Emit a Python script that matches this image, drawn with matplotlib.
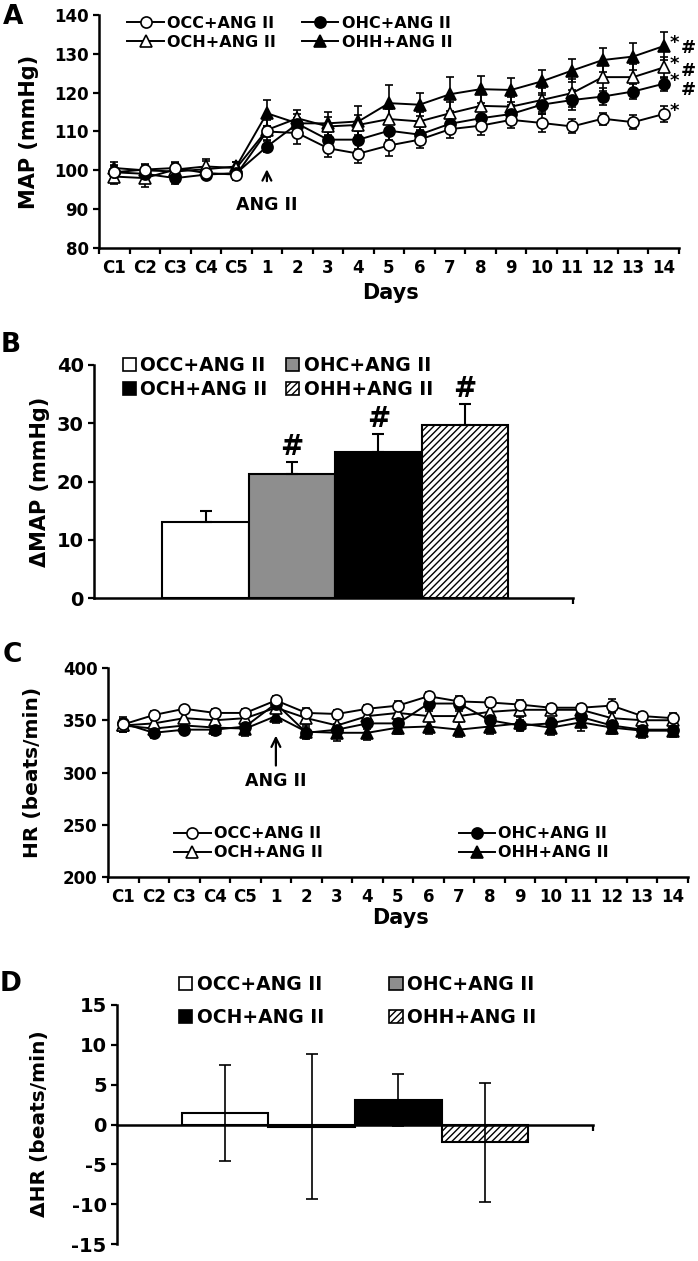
import matplotlib
matplotlib.use('Agg')
import matplotlib.pyplot as plt
from matplotlib.patches import Patch
from matplotlib.lines import Line2D

plt.rcParams['font.family'] = ['DejaVu Sans']
plt.rcParams['font.weight'] = 'bold'
plt.rcParams['hatch.linewidth'] = 1.0
plt.rcParams['axes.unicode_minus'] = False

# ---- data ----
days = ['C1', 'C2', 'C3', 'C4', 'C5', '1', '2', '3', '4', '5', '6', '7',
        '8', '9', '10', '11', '12', '13', '14']
groups = ['OCC+ANG II', 'OHC+ANG II', 'OCH+ANG II', 'OHH+ANG II']

# panel A: MAP (mmHg)
map_occ = [99.5, 100.2, 100.6, 99.3, 98.9, 110.0, 109.6, 105.7, 104.3, 106.4,
           107.9, 110.6, 111.5, 113.0, 112.2, 111.3, 113.3, 112.4, 114.5]
map_ohc = [99.5, 99.1, 98.0, 98.9, 99.3, 106.1, 112.0, 107.9, 107.9, 110.2,
           109.2, 112.0, 113.4, 114.5, 116.9, 118.1, 119.0, 120.3, 122.3]
map_och = [98.4, 98.0, 100.2, 101.0, 100.6, 110.4, 113.4, 111.3, 111.7, 113.2,
           112.6, 114.7, 116.6, 116.4, 118.1, 119.9, 124.0, 124.0, 126.5]
map_ohh = [100.6, 100.0, 99.7, 100.3, 101.0, 114.7, 112.1, 112.1, 112.6, 117.3,
           116.9, 119.6, 120.9, 120.7, 122.9, 125.7, 128.4, 129.3, 132.0]
map_occ_se = [1.8, 1.5, 1.5, 1.2, 1.5, 1.5, 2.8, 2.2, 2.5, 2.8,
              2.2, 2.3, 2.5, 2.0, 2.3, 1.8, 1.5, 1.8, 2.0]
map_ohc_se = [1.5, 1.5, 1.5, 1.2, 1.2, 1.5, 1.5, 2.0, 2.3, 2.3,
              2.0, 2.5, 2.3, 2.2, 2.5, 2.5, 2.2, 2.0, 1.8]
map_och_se = [2.0, 2.2, 1.8, 1.8, 1.5, 2.5, 2.2, 2.5, 2.5, 2.5,
              2.3, 3.0, 3.0, 2.5, 3.0, 3.5, 3.5, 3.5, 2.8]
map_ohh_se = [1.5, 1.5, 1.5, 2.0, 1.2, 3.3, 2.5, 3.0, 4.0, 4.7,
              3.0, 4.4, 3.5, 3.2, 3.0, 3.0, 3.0, 3.5, 3.5]
map_marks = ['*', '*', '*', '*']          # OCC, OHC, OCH, OHH at day 14
map_hash = ['', '#', '#', '#']

# panel B: delta MAP
dmap = [13.0, 21.3, 25.1, 29.7]
dmap_se = [2.0, 2.0, 3.0, 3.6]
dmap_sig = ['', '#', '#', '#']

# panel C: HR (beats/min)
hr_occ = [346, 355, 361, 357, 357, 369, 357, 356, 361, 364,
          373, 368, 367, 365, 362, 362, 364, 354, 352]
hr_ohc = [347, 338, 341, 341, 344, 366, 338, 341, 347, 347,
          366, 366, 350, 345, 347, 353, 345, 341, 341]
hr_och = [345, 347, 352, 350, 352, 362, 352, 345, 354, 357,
          354, 354, 358, 360, 360, 360, 352, 350, 350]
hr_ohh = [345, 342, 345, 343, 342, 354, 339, 338, 338, 343,
          344, 341, 344, 347, 343, 348, 343, 340, 340]
hr_occ_se = [5, 4, 3, 4, 4, 4, 5, 4, 4, 4, 4, 5, 4, 4, 4, 4, 6, 4, 5]
hr_ohc_se = [6, 5, 4, 5, 5, 4, 6, 5, 5, 5, 5, 5, 6, 5, 5, 6, 5, 5, 5]
hr_och_se = [6, 5, 5, 5, 5, 5, 5, 6, 5, 5, 5, 5, 5, 5, 5, 5, 5, 5, 5]
hr_ohh_se = [6, 8, 5, 6, 7, 7, 6, 8, 7, 6, 7, 7, 7, 6, 7, 8, 6, 7, 6]

# panel D: delta HR
dhr = [1.45, -0.3, 3.05, -2.25]
dhr_se = [6.05, 9.1, 3.3, 7.45]

W, H = 698, 1261


def box(l, t, r, b):
    return [l / W, 1 - b / H, (r - l) / W, (b - t) / H]


fig = plt.figure(figsize=(W / 100, H / 100), dpi=100)

styles = [('o', 'white'), ('o', 'black'), ('^', 'white'), ('^', 'black')]
bar_faces = ['white', '#8e8e8e', 'black', 'white']
bar_hatch = ['', '', '', '/////']


def style_axes(ax):
    for s in ['top', 'right']:
        ax.spines[s].set_visible(False)
    for s in ['left', 'bottom']:
        ax.spines[s].set_linewidth(1.8)
    ax.tick_params(width=1.6, length=4, direction='out')


def line_panel(ax, series, errs, ylim, yticks, fs):
    x = list(range(len(days)))
    for (m, fc), y, e in zip(styles[::-1], series[::-1], errs[::-1]):
        ax.errorbar(x, y, yerr=e, fmt='-', color='black', lw=1.4,
                    marker=m, mfc=fc, mec='black', ms=8, mew=1.2,
                    capsize=3, elinewidth=1.2, capthick=1.2, clip_on=False)
    ax.set_xlim(-0.5, len(days) - 0.5)
    ax.set_ylim(*ylim)
    ax.set_yticks(yticks)
    ax.set_xticks([i - 0.5 for i in range(len(days) + 1)])
    ax.set_xticklabels([])
    ax.set_xticks(x, minor=True)
    ax.set_xticklabels(days, minor=True)
    ax.tick_params(axis='y', labelsize=fs)
    style_axes(ax)
    ax.tick_params(axis='x', which='minor', length=0, pad=8, labelsize=fs)


def line_handles():
    return [Line2D([], [], color='black', lw=1.4, marker=styles[i][0],
                   mfc=styles[i][1], mec='black', ms=8, mew=1.2)
            for i in range(4)]


# ---------- A ----------
axA = fig.add_axes(box(99, 15, 679, 248))
line_panel(axA, [map_occ, map_ohc, map_och, map_ohh],
           [map_occ_se, map_ohc_se, map_och_se, map_ohh_se],
           (80, 140), range(80, 141, 10), 12)
h = line_handles()
axA.legend([h[0], h[2], h[1], h[3]], [groups[0], groups[2], groups[1], groups[3]],
           ncol=2, loc='upper left', bbox_to_anchor=(0.035, 1.03), frameon=False,
           fontsize=11.5, handlelength=2.3, handletextpad=0.2, columnspacing=1.6,
           labelspacing=0.25, borderpad=0)
last = len(days) - 1
ends = [map_occ[-1], map_ohc[-1], map_och[-1], map_ohh[-1]]
hash_dy = [0, -1.6, -0.8, -0.4]
for y, s, hs, dy in zip(ends, map_marks, map_hash, hash_dy):
    axA.text(last + 0.35, y + 0.8, s, fontsize=13, ha='center', va='center', clip_on=False)
    if hs:
        axA.text(last + 0.8, y + dy, hs, fontsize=13, ha='center', va='center', clip_on=False)
axA.annotate('', xy=(5, 101.0), xytext=(5, 96.5),
             arrowprops=dict(arrowstyle='->', lw=1.6, color='black', mutation_scale=16))
axA.text(5, 91.2, 'ANG II', fontsize=12.5, ha='center', va='center')
fig.text(29 / W, 1 - 132 / H, 'MAP (mmHg)', rotation=90, fontsize=15,
         ha='center', va='center')
fig.text(391 / W, 1 - 293 / H, 'Days', fontsize=15, ha='center', va='center')
fig.text(13 / W, 1 - 17 / H, 'A', fontsize=19, ha='center', va='center')

# ---------- B ----------
axB = fig.add_axes(box(94, 365, 573, 598))
xb = list(range(len(groups)))
bars = axB.bar(xb, dmap, width=1.0, color=bar_faces, edgecolor='black', lw=1.5,
               yerr=[[0] * 4, dmap_se], capsize=4,
               error_kw=dict(elinewidth=1.5, capthick=1.5, ecolor='black'))
for b, hch in zip(bars, bar_hatch):
    b.set_hatch(hch)
for xi, v, e, s in zip(xb, dmap, dmap_se, dmap_sig):
    if s:
        axB.text(xi, v + e + 2.6, s, fontsize=20, ha='center', va='center')
axB.set_xlim(-1.29, 4.25)
axB.set_ylim(0, 40)
axB.set_yticks(range(0, 41, 10))
axB.set_xticks([4.25])
axB.set_xticklabels([])
axB.tick_params(axis='y', labelsize=14)
style_axes(axB)
pB = [Patch(facecolor=bar_faces[i], edgecolor='black', hatch=bar_hatch[i], lw=1.2)
      for i in range(4)]
axB.legend([pB[0], pB[2], pB[1], pB[3]], [groups[0], groups[2], groups[1], groups[3]],
           ncol=2, loc='upper left', bbox_to_anchor=(0.04, 1.08), frameon=False,
           fontsize=13.5, handlelength=0.7, handleheight=0.7, handletextpad=0.25,
           columnspacing=1.0, labelspacing=0.3, borderpad=0)
fig.text(40 / W, 1 - 482 / H, '\u0394MAP (mmHg)', rotation=90, fontsize=15,
         ha='center', va='center')
fig.text(11 / W, 1 - 345 / H, 'B', fontsize=19, ha='center', va='center')

# ---------- C ----------
axC = fig.add_axes(box(108, 668, 688, 877))
line_panel(axC, [hr_occ, hr_ohc, hr_och, hr_ohh],
           [hr_occ_se, hr_ohc_se, hr_och_se, hr_ohh_se],
           (200, 400), range(200, 401, 50), 12)
axC.legend([h[0], h[2], h[1], h[3]], [groups[0], groups[2], groups[1], groups[3]],
           ncol=2, loc='upper left', bbox_to_anchor=(0.1, 0.28), frameon=False,
           fontsize=11.5, handlelength=2.3, handletextpad=0.2, columnspacing=8.5,
           labelspacing=0.25, borderpad=0)
axC.annotate('', xy=(5, 338), xytext=(5, 304),
             arrowprops=dict(arrowstyle='->', lw=1.6, color='black', mutation_scale=16))
axC.text(5, 292, 'ANG II', fontsize=12.5, ha='center', va='center')
fig.text(33 / W, 1 - 772 / H, 'HR (beats/min)', rotation=90, fontsize=14.5,
         ha='center', va='center')
fig.text(400 / W, 1 - 918 / H, 'Days', fontsize=15, ha='center', va='center')
fig.text(12 / W, 1 - 655 / H, 'C', fontsize=19, ha='center', va='center')

# ---------- D ----------
axD = fig.add_axes(box(117, 1005, 593, 1244))
bars = axD.bar(xb, dhr, width=1.0, color=bar_faces, edgecolor='black', lw=1.5,
               yerr=dhr_se, capsize=4,
               error_kw=dict(elinewidth=1.2, capthick=1.2, ecolor='black'))
for b, hch in zip(bars, bar_hatch):
    b.set_hatch(hch)
axD.set_xlim(-1.25, 4.25)
axD.set_ylim(-15, 15)
axD.set_yticks(range(-15, 16, 5))
axD.set_xticks([4.25])
axD.set_xticklabels([])
axD.tick_params(axis='y', labelsize=14)
style_axes(axD)
axD.spines['bottom'].set_position(('data', 0))
axD.legend([pB[0], pB[2], pB[1], pB[3]], [groups[0], groups[2], groups[1], groups[3]],
           ncol=2, loc='upper left', bbox_to_anchor=(0.11, 1.165), frameon=False,
           fontsize=13.5, handlelength=0.7, handleheight=0.7, handletextpad=0.25,
           columnspacing=3.5, labelspacing=0.75, borderpad=0)
fig.text(40 / W, 1 - 1124 / H, '\u0394HR (beats/min)', rotation=90, fontsize=14.5,
         ha='center', va='center')
fig.text(11 / W, 1 - 984 / H, 'D', fontsize=19, ha='center', va='center')

fig.savefig('out.png', dpi=100)
